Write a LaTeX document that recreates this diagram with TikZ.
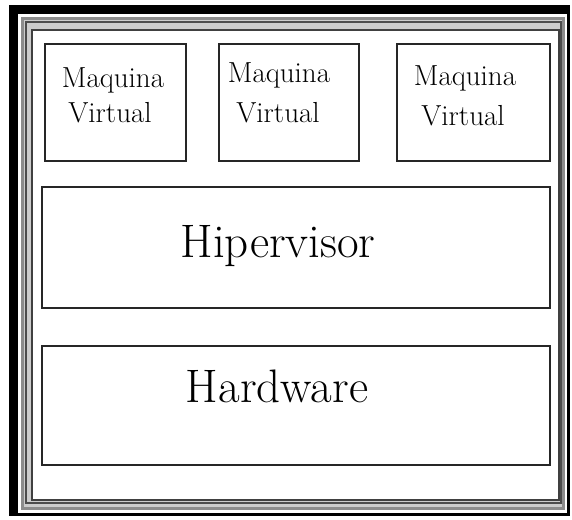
\documentclass[tikz,border=0pt]{standalone}
\begin{document}
\begin{tikzpicture}[x=1pt,y=-1pt,
  box/.style={draw=black!85,line width=1.6pt,anchor=north west,inner sep=0},
  lbl/.style={font=\fontsize{29}{32}\selectfont,anchor=base,inner sep=0},
  big/.style={font=\fontsize{47}{50}\selectfont,anchor=base,inner sep=0}]
\useasboundingbox (0,0) rectangle (572,519);
\fill[white] (0,0) rectangle (572,519);
% frame
\fill[black] (9,5) rectangle (570,516);
\fill[white] (18,14) rectangle (567,513);
\fill[black!45] (21,17) rectangle (565,510);
\fill[black!20] (24,20) rectangle (562,507);
\draw[black!70,line width=1.2pt] (26,22) rectangle (561,503);
\fill[white] (32,30) rectangle (559,500);
\draw[black!75,line width=1.2pt] (32,30) rectangle (559,500);
% boxes
\node[box,minimum width=141,minimum height=117] (vm1) at (44,43) {};
\node[box,minimum width=140,minimum height=117] (vm2) at (218,43) {};
\node[box,minimum width=153,minimum height=117] (vm3) at (396,43) {};
\node[box,minimum width=508,minimum height=121] (hip) at (41,186) {};
\node[box,minimum width=508,minimum height=119] (hw) at (41,345) {};
\node[lbl] (t1a) at (113,87) {Maquina};
\node[lbl] (t1b) at (110,122) {Virtual};
\node[lbl] (t2a) at (279,82) {Maquina};
\node[lbl] (t2b) at (278,122) {Virtual};
\node[lbl] (t3a) at (465,85) {Maquina};
\node[lbl] (t3b) at (463,125) {Virtual};
\node[big] (t4) at (278,257) {Hipervisor};
\node[big] (t5) at (277,402) {Hardware};
\end{tikzpicture}
\end{document}
